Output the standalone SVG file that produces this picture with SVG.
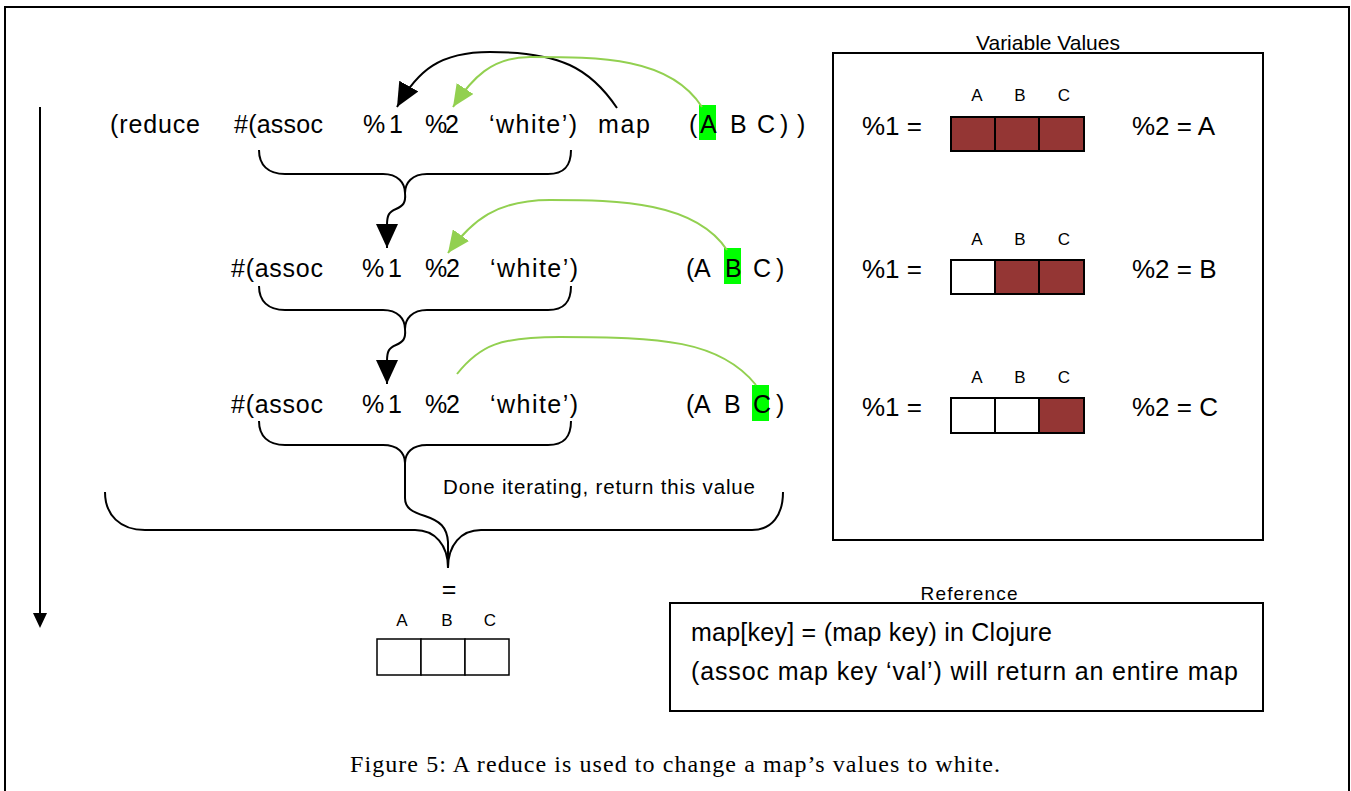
<svg xmlns="http://www.w3.org/2000/svg" width="1351" height="791" viewBox="0 0 1351 791">
<style>
.t{font-family:"Liberation Sans",Arial,sans-serif;fill:#000}
.c{font-size:25px}
.v{font-size:26px}
.s{font-size:17px}
.br{fill:none;stroke:#000;stroke-width:2}
.gr{fill:none;stroke:#92d050;stroke-width:2}
.red{fill:#943634;stroke:#000;stroke-width:2}
.wh{fill:#fff;stroke:#000;stroke-width:2}
.hl{fill:#00ff00}
.box{fill:none;stroke:#000;stroke-width:2}
</style>
<defs>
<marker id="ab" viewBox="0 0 24 22" refX="24" refY="11" markerWidth="24" markerHeight="22" orient="auto" markerUnits="userSpaceOnUse"><path d="M0,0 L24,11 L0,22 z" fill="#000"/></marker>
<marker id="ag" viewBox="0 0 22 20" refX="22" refY="10" markerWidth="22" markerHeight="20" orient="auto" markerUnits="userSpaceOnUse"><path d="M0,0 L22,10 L0,20 z" fill="#92d050"/></marker>
</defs>
<rect width="1351" height="791" fill="#fff"/>
<g id="frame"><path d="M5,795 V7 H1349 V795" class="box"/></g>

<g id="row1">
<rect class="hl" x="699" y="105" width="17" height="35"/>
<text class="t c" x="110" y="133" textLength="90">(reduce</text>
<text class="t c" x="234" y="133" textLength="89">#(assoc</text>
<text class="t c" x="363" y="133" textLength="40">% 1</text>
<text class="t c" x="425" y="133" textLength="34">%2</text>
<text class="t c" x="489" y="133" textLength="88">‘white’)</text>
<text class="t c" x="598" y="133" textLength="52">map</text>
<text class="t c" x="689" y="133">(</text>
<text class="t c" x="700" y="133">A</text>
<text class="t c" x="730" y="133">B</text>
<text class="t c" x="757" y="133">C</text>
<text class="t c" x="780" y="133">)</text>
<text class="t c" x="797" y="133">)</text>
</g>

<g id="row2">
<rect class="hl" x="724" y="248" width="17" height="36"/>
<text class="t c" x="231" y="277" textLength="92">#(assoc</text>
<text class="t c" x="362" y="277" textLength="40">% 1</text>
<text class="t c" x="425" y="277" textLength="35">%2</text>
<text class="t c" x="490" y="277" textLength="88">‘white’)</text>
<text class="t c" x="686" y="277">(</text>
<text class="t c" x="694" y="277">A</text>
<text class="t c" x="725" y="277">B</text>
<text class="t c" x="753" y="277">C</text>
<text class="t c" x="776" y="277">)</text>
</g>

<g id="row3">
<rect class="hl" x="752" y="385" width="17" height="36"/>
<text class="t c" x="231" y="413" textLength="92">#(assoc</text>
<text class="t c" x="362" y="413" textLength="40">% 1</text>
<text class="t c" x="425" y="413" textLength="35">%2</text>
<text class="t c" x="490" y="413" textLength="88">‘white’)</text>
<text class="t c" x="686" y="413">(</text>
<text class="t c" x="694" y="413">A</text>
<text class="t c" x="724" y="413">B</text>
<text class="t c" x="753" y="413">C</text>
<text class="t c" x="776" y="413">)</text>
</g>

<g id="done-label">
<text class="t" x="443" y="494" font-size="20.5" textLength="312">Done iterating, return this value</text>
</g>

<g id="result">
<text class="t c" x="449" y="598" text-anchor="middle">=</text>
<text class="t s" x="402" y="626" text-anchor="middle">A</text>
<text class="t s" x="447" y="626" text-anchor="middle">B</text>
<text class="t s" x="490" y="626" text-anchor="middle">C</text>
<rect x="377" y="639" width="44" height="36" fill="#fff" stroke="#000" stroke-width="1.5"/>
<rect x="421" y="639" width="44" height="36" fill="#fff" stroke="#000" stroke-width="1.5"/>
<rect x="465" y="639" width="44" height="36" fill="#fff" stroke="#000" stroke-width="1.5"/>
</g>

<g id="variable-values">
<text class="t" x="1048" y="50" font-size="21" text-anchor="middle">Variable Values</text>
<rect x="833" y="53" width="430" height="487" class="box"/>
<text class="t s" x="977" y="101" text-anchor="middle">A</text>
<text class="t s" x="1020" y="101" text-anchor="middle">B</text>
<text class="t s" x="1064" y="101" text-anchor="middle">C</text>
<text class="t v" x="862" y="135">%1 =</text>
<rect class="red" x="951" y="117" width="44" height="34"/>
<rect class="red" x="995" y="117" width="44" height="34"/>
<rect class="red" x="1039" y="117" width="45" height="34"/>
<text class="t v" x="1132" y="135">%2 = A</text>

<text class="t s" x="977" y="245" text-anchor="middle">A</text>
<text class="t s" x="1020" y="245" text-anchor="middle">B</text>
<text class="t s" x="1064" y="245" text-anchor="middle">C</text>
<text class="t v" x="862" y="278">%1 =</text>
<rect class="wh" x="951" y="260" width="44" height="34"/>
<rect class="red" x="995" y="260" width="44" height="34"/>
<rect class="red" x="1039" y="260" width="45" height="34"/>
<text class="t v" x="1132" y="278">%2 = B</text>

<text class="t s" x="977" y="383" text-anchor="middle">A</text>
<text class="t s" x="1020" y="383" text-anchor="middle">B</text>
<text class="t s" x="1064" y="383" text-anchor="middle">C</text>
<text class="t v" x="862" y="416">%1 =</text>
<rect class="wh" x="951" y="398" width="44" height="35"/>
<rect class="wh" x="995" y="398" width="44" height="35"/>
<rect class="red" x="1039" y="398" width="45" height="35"/>
<text class="t v" x="1132" y="416">%2 = C</text>
</g>

<g id="reference">
<text class="t" x="969" y="600" font-size="19" text-anchor="middle" textLength="97">Reference</text>
<rect x="670" y="603" width="593" height="108" class="box"/>
<text class="t" x="691" y="641" font-size="25" textLength="361">map[key] = (map key) in Clojure</text>
<text class="t" x="691" y="680" font-size="25" textLength="547">(assoc map key ‘val’) will return an entire map</text>
</g>

<g id="caption">
<text x="350" y="772" font-family="'Liberation Serif','Times New Roman',serif" font-size="24" textLength="650">Figure 5: A reduce is used to change a map’s values to white.</text>
</g>

<g id="connectors">
<path class="br" d="M40,107 V614"/>
<path d="M33,613 L47,613 L40,628 z" fill="#000"/>
<path class="br" d="M617,108 C590,68 560,52 490,52 C440,52 418,70 397,107" marker-end="url(#ab)"/>
<path class="gr" d="M702,107 C670,57 600,57 530,57 C492,57 472,78 453,107" marker-end="url(#ag)"/>
<path class="gr" d="M727,250 C695,202 620,200 550,200 C497,200 472,220 448,253" marker-end="url(#ag)"/>
<path class="gr" d="M756,385 C720,340 660,337 560,337 C500,337 480,345 457,374"/>
<path class="br" d="M259,150 C259,165 268,174 285,174 L383,174 C398,174 405,183 405,193 C405,183 412,174 427,174 L548,174 C565,174 571,165 571,150"/>
<path class="br" d="M405,193 C406,203 403,206 396,209 C389,212 387,215 387,225 L387,248" marker-end="url(#ab)"/>
<path class="br" d="M259,286 C259,301 268,310 285,310 L383,310 C398,310 405,319 405,329 C405,319 412,310 427,310 L548,310 C565,310 571,301 571,286"/>
<path class="br" d="M405,329 C406,339 403,342 396,345 C389,348 387,351 387,361 L387,384" marker-end="url(#ab)"/>
<path class="br" d="M259,421 C259,436 268,445 285,445 L383,445 C398,445 405,453 405,463 C405,453 412,445 427,445 L548,445 C565,445 571,436 571,421"/>
<path class="br" d="M405,463 L405,498 C405,508 412,512 425,516 C440,521 447,527 448,542 L448,568"/>
<path class="br" d="M105,492 C105,515 120,530 145,530 L415,530 C435,530 448,545 448,568 C448,545 461,530 481,530 L752,530 C772,530 783,515 783,492"/>
</g>
</svg>
